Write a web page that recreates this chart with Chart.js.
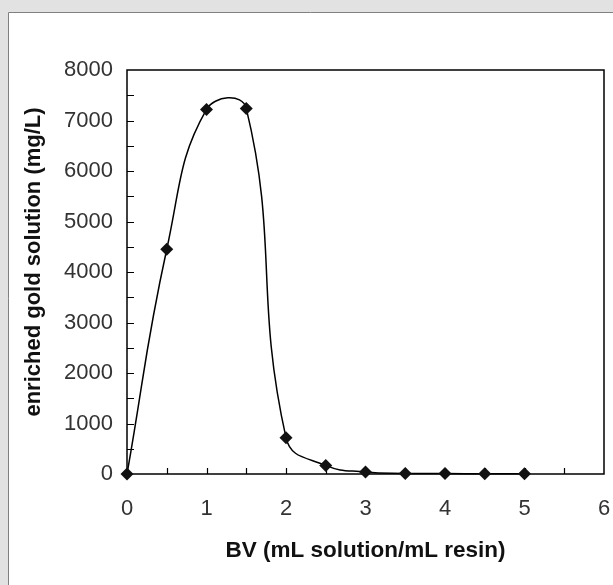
<!DOCTYPE html>
<html>
<head>
<meta charset="utf-8">
<script src="https://cdn.jsdelivr.net/npm/chart.js@4.4.1/dist/chart.umd.min.js"></script>
<style>
  html, body { margin: 0; padding: 0; background: #e2e2e2; }
  #wrap { width: 613px; height: 585px; position: relative; }
</style>
</head>
<body>
<div id="wrap"><canvas id="c" width="613" height="585"></canvas></div>
<script>
// Bed volumes of eluent passed through the column
const bedVolumes = [0, 0.5, 1, 1.5, 2, 2.5, 3, 3.5, 4, 4.5, 5];
// Gold concentration in the collected eluate (mg/L)
const goldConc = [0, 4450, 7220, 7240, 720, 170, 40, 12, 8, 6, 5];

const xTickValues = [0, 1, 2, 3, 4, 5, 6];
const yTickValues = [0, 1000, 2000, 3000, 4000, 5000, 6000, 7000, 8000];
const yAxisTitle = 'enriched gold solution (mg/L)';

// Panel background with a grey frame along the top and left
const panelBackground = {
  id: 'panelBackground',
  beforeDraw(chart) {
    const ctx = chart.ctx;
    ctx.save();
    ctx.fillStyle = '#e2e2e2';
    ctx.fillRect(0, 0, chart.width, chart.height);
    ctx.fillStyle = '#ffffff';
    ctx.fillRect(8, 12, chart.width - 8, chart.height - 12);
    ctx.strokeStyle = '#808080';
    ctx.lineWidth = 1;
    ctx.beginPath();
    ctx.moveTo(8.5, chart.height);
    ctx.lineTo(8.5, 12.5);
    ctx.lineTo(chart.width, 12.5);
    ctx.stroke();
    ctx.restore();
  }
};

// Boxed plot area with inward-pointing tick marks, plus the vertical axis title
const plotFrame = {
  id: 'plotFrame',
  beforeDatasetsDraw(chart) {
    const { ctx, chartArea: a, scales: { x, y } } = chart;
    ctx.save();
    ctx.strokeStyle = '#000';
    ctx.lineWidth = 1.5;
    ctx.strokeRect(a.left, a.top, a.right - a.left, a.bottom - a.top);
    ctx.lineWidth = 1.2;
    ctx.beginPath();
    for (let v = 500; v < 8000; v += 500) {
      const py = Math.round(y.getPixelForValue(v)) + 0.5;
      ctx.moveTo(a.left, py);
      ctx.lineTo(a.left + 7, py);
    }
    for (let v = 0.5; v < 6; v += 0.5) {
      const px = Math.round(x.getPixelForValue(v)) + 0.5;
      ctx.moveTo(px, a.bottom);
      ctx.lineTo(px, a.bottom - 6);
    }
    ctx.stroke();

    ctx.translate(34, (a.top + a.bottom) / 2 - 10);
    ctx.rotate(-Math.PI / 2);
    ctx.fillStyle = '#111';
    ctx.font = 'bold 22px "Liberation Sans"';
    ctx.textAlign = 'center';
    ctx.textBaseline = 'middle';
    ctx.fillText(yAxisTitle, 0, 0);
    ctx.restore();
  }
};

const points = bedVolumes.map((bv, i) => ({ x: bv, y: goldConc[i] }));

new Chart(document.getElementById('c'), {
  type: 'line',
  data: {
    datasets: [{
      data: points,
      borderColor: '#000',
      borderWidth: 1.5,
      tension: 0.45,
      pointStyle: 'rectRot',
      pointRadius: 6.5,
      pointBackgroundColor: '#111',
      pointBorderColor: '#111',
      pointBorderWidth: 0,
      clip: false
    }]
  },
  options: {
    responsive: false,
    animation: false,
    events: [],
    layout: { autoPadding: false, padding: { top: 70, right: 9, left: 0, bottom: 0 } },
    plugins: { legend: { display: false }, tooltip: { enabled: false } },
    scales: {
      x: {
        type: 'linear',
        min: 0, max: 6,
        afterBuildTicks(scale) { scale.ticks = xTickValues.map(v => ({ value: v })); },
        afterFit(scale) { scale.height = 111; scale.paddingLeft = 0; scale.paddingRight = 0; },
        grid: { display: false, drawTicks: false },
        border: { display: false },
        ticks: {
          padding: 22,
          color: '#333',
          font: { family: 'Liberation Sans', size: 22 },
          maxRotation: 0,
          callback: v => String(v)
        },
        title: {
          display: true,
          text: 'BV (mL solution/mL resin)',
          color: '#111',
          font: { family: 'Liberation Sans', size: 22.5, weight: 'bold' },
          padding: { top: 0, bottom: 21 }
        }
      },
      y: {
        min: 0, max: 8000,
        afterBuildTicks(scale) { scale.ticks = yTickValues.map(v => ({ value: v })); },
        afterFit(scale) { scale.width = 127; scale.paddingTop = 0; scale.paddingBottom = 0; },
        grid: { display: false, drawTicks: false },
        border: { display: false },
        ticks: {
          padding: 14,
          color: '#333',
          font: { family: 'Liberation Sans', size: 22 },
          callback: v => String(v)
        },
        title: { display: false }
      }
    }
  },
  plugins: [panelBackground, plotFrame]
});
</script>
</body>
</html>
